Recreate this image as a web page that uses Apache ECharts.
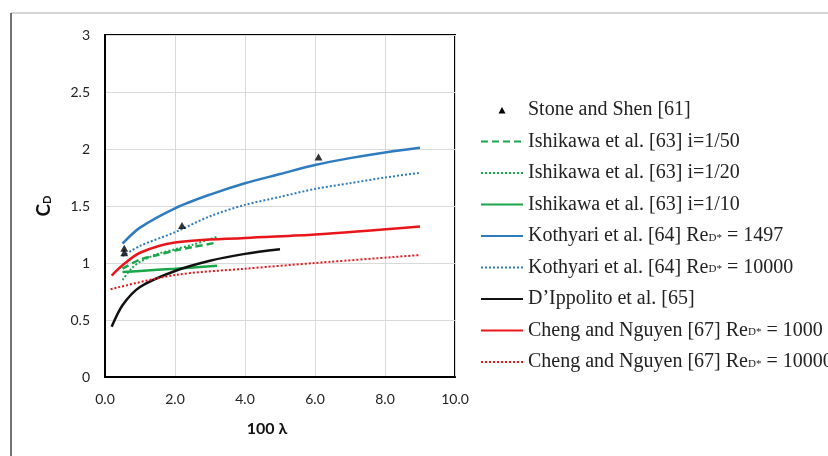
<!DOCTYPE html>
<html><head><meta charset="utf-8">
<script src="https://cdn.jsdelivr.net/npm/echarts@6/dist/echarts.min.js"></script>
<style>html,body{margin:0;padding:0;background:#fff}#c{width:828px;height:456px}</style>
</head><body><div id="c"></div>
<script>
var stoneShen = [[0.55,1.13],[0.55,1.09],[2.2,1.33],[6.1,1.93]];
var ishi50 = [[0.5,0.95],[1,1.03],[1.5,1.07],[2,1.11],[2.5,1.14],[3.2,1.18]];
var ishi20 = [[0.5,0.85],[0.75,0.95],[1,1.01],[1.5,1.08],[2,1.12],[2.5,1.16],[3.2,1.23]];
var ishi10 = [[0.5,0.92],[1,0.93],[2,0.95],[3.2,0.975]];
var koth1497 = [[0.5,1.17],[1,1.31],[2,1.48],[3,1.6],[4,1.70],[5,1.78],[6,1.86],[7,1.92],[8,1.97],[9,2.01]];
var koth10000 = [[0.5,1.06],[1,1.15],[2,1.27],[3,1.41],[4,1.51],[5,1.58],[6,1.65],[7,1.70],[8,1.75],[9,1.79]];
var dippolito = [[0.19,0.44],[0.5,0.63],[1,0.79],[2,0.93],[3,1.02],[4,1.08],[5,1.12]];
var cheng1000 = [[0.19,0.89],[0.5,0.98],[1,1.09],[2,1.18],[4,1.22],[6,1.25],[9,1.32]];
var cheng10000 = [[0.16,0.77],[2,0.895],[4,0.95],[6,1.0],[9,1.07]];

var names = ['Stone and Shen [61]','Ishikawa et al. [63] i=1/50','Ishikawa et al. [63] i=1/20','Ishikawa et al. [63] i=1/10',
 'Kothyari et al. [64] ReD* = 1497','Kothyari et al. [64] ReD* = 10000',"D\u2019Ippolito et al. [65]",
 'Cheng and Nguyen [67] ReD* = 1000','Cheng and Nguyen [67] ReD* = 10000'];

var GREEN='#1aa64a', BLUE='#2e7bbf', RED='#e8161b', BLACK='#111';
function line(name,data,color,type,width){
  return {name:name,type:'line',data:data,showSymbol:false,symbol:'none',smooth:0.3,
    lineStyle:{color:color,width:width,type:type},itemStyle:{color:color},z:3};
}
var chart = echarts.init(document.getElementById('c'));
chart.setOption({
  animation:false,
  graphic:[
    {type:'line',shape:{x1:11,y1:13,x2:828,y2:13},style:{stroke:'#aaa',lineWidth:1}},
    {type:'line',shape:{x1:11,y1:13,x2:11,y2:456},style:{stroke:'#444',lineWidth:1.5}}
  ],
  grid:{left:105,top:35,right:373,bottom:79,show:true,borderColor:'#000',borderWidth:2,backgroundColor:'transparent'},
  xAxis:{type:'value',min:0,max:10,interval:2,
    axisLine:{show:true,lineStyle:{color:'#000',width:2}},axisTick:{show:false},
    splitLine:{lineStyle:{color:'#d9d9d9',width:1}},
    axisLabel:{margin:15,fontFamily:'Lato',fontSize:14,color:'#222',formatter:function(v){return v.toFixed(1);}},
    name:'100 \u03bb',nameLocation:'middle',nameGap:44,
    nameTextStyle:{fontFamily:'Lato',fontWeight:'bold',fontSize:16,color:'#111',padding:[0,26,0,0]}},
  yAxis:{type:'value',min:0,max:3,interval:0.5,
    axisLine:{show:true,lineStyle:{color:'#000',width:2}},axisTick:{show:false},
    splitLine:{lineStyle:{color:'#d9d9d9',width:1}},
    axisLabel:{margin:15,fontFamily:'Lato',fontSize:14,color:'#222'},
    name:'{c|C}{d|D}',nameLocation:'middle',nameRotate:90,nameGap:52,
    nameTextStyle:{rich:{c:{fontFamily:'Lato',fontWeight:'bold',fontSize:19,color:'#111'},
      d:{fontFamily:'Lato',fontWeight:'bold',fontSize:11,color:'#111',padding:[8,0,0,0]}}}},
  legend:{orient:'vertical',left:475,top:95,itemWidth:42,itemHeight:14,itemGap:11.5,
    itemStyle:{opacity:0},
    textStyle:{fontFamily:'Liberation Serif',fontSize:20,color:'#222',lineHeight:20,
      rich:{n:{fontFamily:'Liberation Serif',fontSize:20,color:'#222',lineHeight:20},
            s:{fontFamily:'Liberation Serif',fontSize:11,color:'#222',lineHeight:20,padding:[4,0,0,0]}}},
    formatter:function(n){
      var i=n.indexOf('ReD*');
      if(i<0) return '{n|'+n+'}';
      return '{n|'+n.slice(0,i)+'Re}{s|D*}{n|'+n.slice(i+4)+'}';
    },
    data:[{name:names[0],icon:'path://M0,0M42,14M17.5,10.5L21,4L24.5,10.5Z',itemStyle:{opacity:1,color:'#000'}},
      names[1],names[2],names[3],names[4],names[5],names[6],names[7],names[8]]},
  series:[
    {name:names[0],type:'scatter',data:stoneShen,symbol:'triangle',symbolSize:[8,7],itemStyle:{color:'#000'},z:5},
    line(names[1],ishi50,GREEN,[7,4],2.5),
    line(names[2],ishi20,GREEN,[2,2],2),
    line(names[3],ishi10,GREEN,'solid',2.5),
    line(names[4],koth1497,BLUE,'solid',2.5),
    line(names[5],koth10000,BLUE,[2,2],2),
    line(names[6],dippolito,BLACK,'solid',2.5),
    line(names[7],cheng1000,RED,'solid',2.5),
    line(names[8],cheng10000,RED,[2,2],2)
  ]
});
</script></body></html>
